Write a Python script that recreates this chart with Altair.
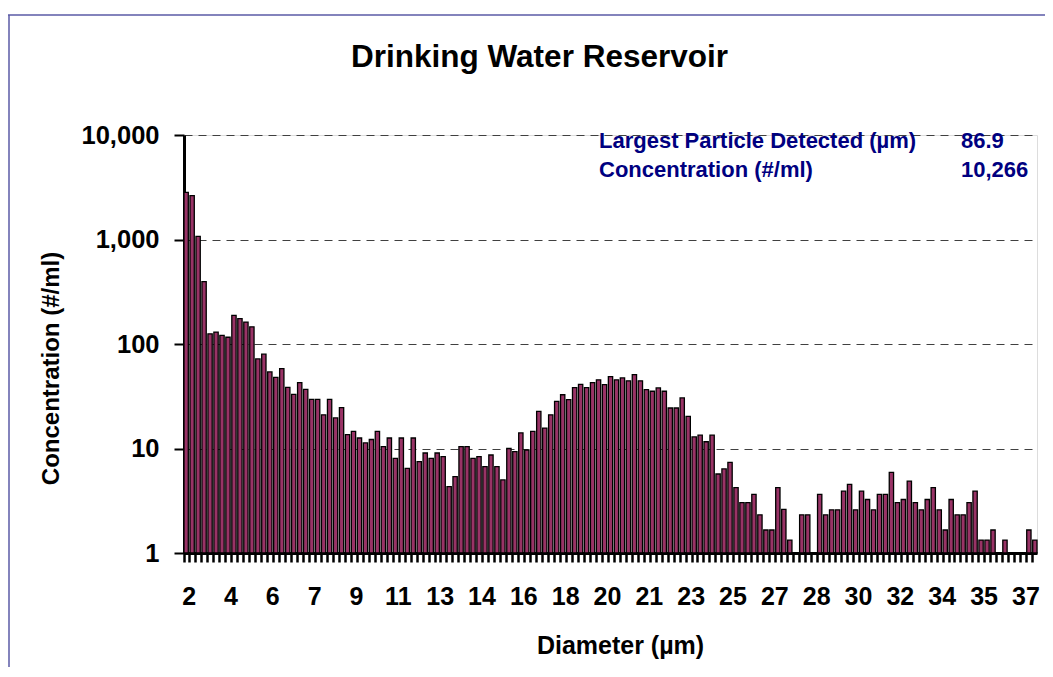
import altair as alt
import pandas as pd

# Concentration (#/ml) per size bin (None = no bar)
conc = [
    2828, 2630, 1072, 395, 125, 130, 121, 116, 188, 175,
    162, 146, 72, 80, 54, 48, 58, 38.5, 33, 42.7,
    36.8, 29.5, 29.5, 21, 29.5, 19.6, 24.6, 13.6, 14.6, 12.6,
    11.3, 12.2, 14.6, 10.4, 12.6, 8.05, 12.6, 6.46, 12.6, 7.48,
    9.06, 8.05, 9.06, 8.35, 4.31, 5.37, 10.4, 10.4, 8.05, 8.35,
    6.7, 8.67, 6.7, 5.0, 10.0, 9.33, 14.1, 9.68, 14.6, 22.7,
    15.7, 21, 28.3, 32.7, 29.3, 38.2, 41.1, 38.2, 42.7, 45.4,
    40.9, 48.8, 45.4, 47.4, 44.4, 51, 44.4, 36.6, 35.3, 38,
    35.3, 24.4, 24.4, 30.5, 20.3, 12.9, 13.4, 11.6, 13.4, 5.7,
    6.37, 7.38, 4.22, 3.03, 3.03, 3.64, 2.32, 1.66, 1.66, 4.22,
    2.61, 1.33, None, 2.32, 2.32, None, 3.64, 2.32, 2.59, 2.59,
    3.91, 4.54, 2.59, 3.91, 3.25, 2.59, 3.64, 3.64, 5.92, 3.03,
    3.25, 4.88, 3.03, 2.59, 3.25, 4.22, 2.59, 1.66, 3.25, 2.32,
    2.32, 3.03, 3.91, 1.33, 1.33, 1.66, None, 1.33, None, None,
    None, 1.66, 1.33,
]
bins = list(range(len(conc)))
# axis label shown on every 7th bin
tick_labels = ["2", "4", "6", "7", "9", "11", "13", "14", "16", "18", "20",
               "21", "23", "25", "27", "28", "30", "32", "34", "35", "37"]
y_ticks = [1, 10, 100, 1000, 10000]

title_text = "Drinking Water Reservoir"
annot_labels = ["Largest Particle Detected (µm)", "Concentration (#/ml)"]
annot_values = ["86.9", "10,266"]

FONT = "Liberation Sans"
W, H = 853, 418
LEFT = 176
STEP = W / len(bins)

df = pd.DataFrame({"bin": bins, "conc": conc})

labels_js = "[" + ",".join("'" + t + "'" for t in tick_labels) + "]"
label_expr = f"datum.value % 7 == 0 ? {labels_js}[floor(datum.value / 7)] : ''"

bars = alt.Chart(df).transform_filter("isValid(datum.conc)").mark_bar(
    fill="#993366", stroke="black", strokeWidth=1.3
).encode(
    x=alt.X("bin:O", sort="ascending",
            scale=alt.Scale(domain=bins, paddingInner=0.28, paddingOuter=0),
            axis=alt.Axis(labelExpr=label_expr, labelAngle=0, labelOverlap=False,
                          bandPosition=0, labelOffset=STEP / 2,
                          tickSize=9, tickWidth=2.5, tickColor="black",
                          domainColor="black", domainWidth=3,
                          labelFont=FONT, labelFontSize=25, labelFontWeight="bold",
                          labelColor="black", labelPadding=22,
                          title="Diameter (µm)", titleFont=FONT, titleFontSize=25,
                          titleFontWeight="bold", titleColor="black",
                          titleX=436, titleY=92, titleAlign="center",
                          titleBaseline="middle")),
    y=alt.Y("conc:Q",
            scale=alt.Scale(type="log", domain=[1, 10000], clamp=True),
            axis=alt.Axis(values=y_ticks, labelExpr="format(datum.value, ',')",
                          grid=True, gridDash=[8, 6], gridColor="#404040",
                          gridWidth=1.2, tickSize=10, tickWidth=2,
                          tickColor="black", domainColor="black", domainWidth=3,
                          labelFont=FONT, labelFontSize=25.5, labelFontWeight="bold",
                          labelColor="black", labelPadding=15,
                          title="Concentration (#/ml)", titleFont=FONT,
                          titleFontSize=24, titleFontWeight="bold",
                          titleColor="black", titleX=-133, titleY=233,
                          titleAlign="center", titleBaseline="middle")),
)


def txt(s, x, y, size, color, align="left"):
    return alt.Chart(pd.DataFrame({"t": [s]})).mark_text(
        font=FONT, fontSize=size, fontWeight="bold", color=color,
        align=align, baseline="alphabetic"
    ).encode(text="t:N", x=alt.value(x), y=alt.value(y))


layers = [
    bars,
    txt(title_text, 355.5, -67.7, 31.5, "black", "center"),
    txt(annot_labels[0], 415, 13.3, 22, "#000080"),
    txt(annot_values[0], 777, 13.3, 22, "#000080"),
    txt(annot_labels[1], 415, 41.7, 22, "#000080"),
    txt(annot_values[1], 777, 41.7, 22, "#000080"),
]

dummy = pd.DataFrame({"a": [0]})
border_top = alt.Chart(dummy).mark_rule(color="#5a5aa6", strokeWidth=1.5).encode(
    x=alt.value(-180), x2=alt.value(W + 20), y=alt.value(-120))
border_left = alt.Chart(dummy).mark_rule(color="#5a5aa6", strokeWidth=1.5).encode(
    x=alt.value(-175), y=alt.value(-120), y2=alt.value(H + 130))
layers += [border_top, border_left]

chart = alt.layer(*layers).properties(
    width=W, height=H,
    autosize=alt.AutoSizeParams(type="none"),
    padding={"left": LEFT, "top": 127, "right": 8, "bottom": 114},
).configure_view(stroke=None).configure(background="white")

chart.save("out.html", embed_options={"renderer": "svg", "actions": False})
